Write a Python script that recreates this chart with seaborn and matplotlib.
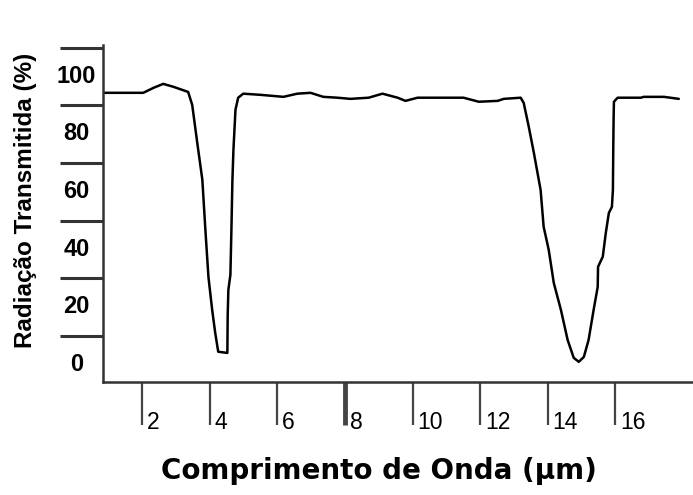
import matplotlib
matplotlib.use("Agg")
import matplotlib.pyplot as plt
import matplotlib.transforms as mtransforms
import seaborn as sns

# chart data
wavelength = [0.84, 1.35, 2.03, 2.33, 2.62, 2.92, 3.19, 3.36, 3.48, 3.63, 3.78, 3.87,
              3.96, 4.07, 4.16, 4.25, 4.52, 4.53, 4.55, 4.61, 4.64, 4.67, 4.70, 4.76,
              4.84, 4.99, 5.50, 6.18, 6.59, 6.98, 7.36, 7.78, 8.16, 8.70, 9.11, 9.56,
              9.79, 10.15, 11.13, 11.51, 11.96, 12.52, 12.70, 13.20, 13.29, 13.44, 13.59,
              13.79, 13.88, 14.03, 14.18, 14.39, 14.59, 14.77, 14.92, 15.07, 15.21, 15.36,
              15.48, 15.49, 15.63, 15.72, 15.81, 15.90, 15.93, 15.94, 15.95, 15.96, 16.07,
              16.76, 16.84, 17.44, 17.88]
transmission = [93.4, 93.4, 93.4, 95.1, 96.5, 95.5, 94.4, 93.7, 89.2, 76.0, 63.2, 45.8,
                29.5, 18.1, 10.1, 3.5, 3.1, 16.3, 25.0, 30.2, 45.8, 63.2, 73.6, 87.5,
                91.7, 93.1, 92.7, 92.0, 93.1, 93.4, 92.0, 91.7, 91.3, 91.7, 93.1, 91.7,
                90.6, 91.7, 91.7, 91.7, 90.3, 90.6, 91.3, 91.7, 89.9, 81.6, 72.6,
                59.7, 46.9, 38.9, 27.4, 18.1, 7.6, 1.4, 0.0, 1.7, 7.6, 18.1,
                26.0, 33.0, 36.5, 44.8, 51.7, 53.8, 59.7, 73.6, 84.0, 90.3, 91.7,
                91.7, 92.0, 92.0, 91.3]

x_ticks = [2, 4, 6, 8, 10, 12, 14, 16]
y_ticks = [0, 20, 40, 60, 80, 100]
# tick marks sit between the labels on the y axis
y_tick_marks = [v + 9 for v in y_ticks]

sns.set_theme(style="white")
plt.rcParams['font.family'] = ['Liberation Sans', 'DejaVu Sans']
plt.rcParams['text.color'] = 'black'
plt.rcParams['axes.labelcolor'] = 'black'
plt.rcParams['xtick.labelcolor'] = 'black'
plt.rcParams['ytick.labelcolor'] = 'black'

fig = plt.figure(figsize=(6.93, 4.95), dpi=100)
ax = fig.add_axes([103 / 693, 113 / 495, 590 / 693, 337 / 495])

sns.lineplot(x=wavelength, y=transmission, sort=False, estimator=None,
             color="black", linewidth=1.8, ax=ax)

ax.set_xlim(0.84, 18.3)
ax.set_ylim(-7, 110)

# spines
ax.spines[['top', 'right']].set_visible(False)
for side in ['left', 'bottom']:
    ax.spines[side].set_linewidth(1.8)
    ax.spines[side].set_color('#333333')

# y axis: labels between long tick marks
ax.set_yticks(y_ticks)
ax.set_yticklabels([str(v) for v in y_ticks], fontsize=17, fontweight='bold')
ax.set_yticks(y_tick_marks, minor=True)
ax.tick_params(axis='y', which='major', length=0, pad=19, left=True, labelcolor='black')
ax.tick_params(axis='y', which='minor', length=31, width=2.2, color='#333333', left=True)
for lab in ax.get_yticklabels():
    lab.set_ha('center')

# x axis: long ticks, labels to the right of them
ax.set_xticks(x_ticks)
ax.set_xticklabels([str(v) for v in x_ticks], fontsize=16.5)
ax.tick_params(axis='x', which='major', length=31, width=1.6, pad=-2,
               color='#444444', bottom=True, labelcolor='black')
shift = mtransforms.ScaledTranslation(0.05, 0, fig.dpi_scale_trans)
for lab in ax.get_xticklabels():
    lab.set_ha('left')
    lab.set_va('center')
    lab.set_transform(lab.get_transform() + shift)
ax.xaxis.get_major_ticks()[3].tick1line.set_markeredgewidth(3.5)

ax.set_xlabel("Comprimento de Onda (µm)", fontsize=20, fontweight='bold',
              family=['DejaVu Sans'], color='black')
ax.xaxis.set_label_coords(0.468, -0.265)
ax.xaxis.label.set_va('center')

ax.set_ylabel("Radiação Transmitida (%)", fontsize=17.5, fontweight='bold', color='black')
ax.yaxis.set_label_coords(-0.132, 0.54)
ax.yaxis.label.set_va('center')

fig.savefig("out.png", dpi=100)
